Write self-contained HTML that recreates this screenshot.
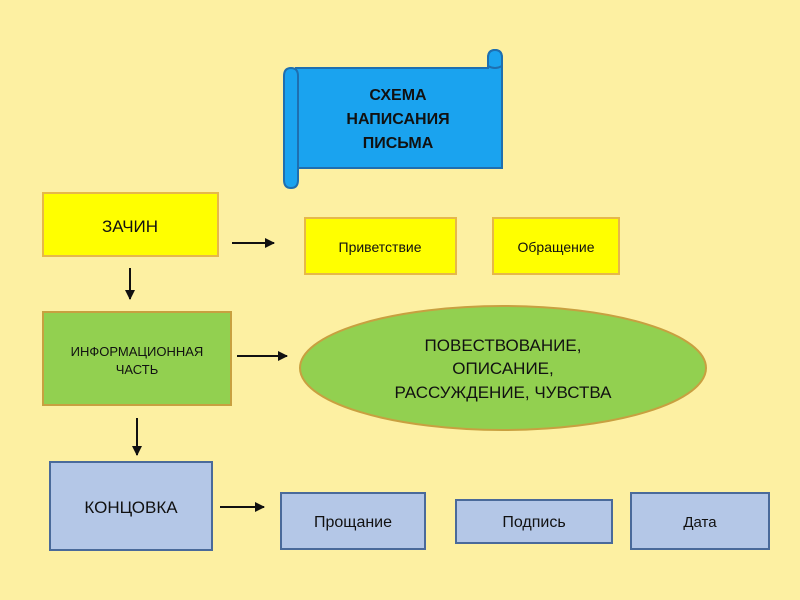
<!DOCTYPE html>
<html><head><meta charset="utf-8"><style>
html,body{margin:0;padding:0;width:800px;height:600px;overflow:hidden;background:#fdf0a2}
svg{display:block}
text{font-family:"Liberation Sans",Arial,sans-serif;fill:#111}
</style></head><body>
<svg width="800" height="600" viewBox="0 0 800 600" xmlns="http://www.w3.org/2000/svg">
<defs><marker id="a" markerWidth="10" markerHeight="10" refX="9" refY="5" orient="auto" markerUnits="userSpaceOnUse"><path d="M0,0 L10,5 L0,10 z" fill="#111"/></marker></defs>
<rect width="800" height="600" fill="#fdf0a2"/>
<!-- scroll -->
<g stroke="#1e6fb0" stroke-width="2" fill="#1aa3ef">
<path d="M296,68 L488,68 L488,58 Q488,50 495,50 Q502,50 502,58 L502,168 L296,168 L296,68 z"/>
<path d="M284,76 Q284,68 291,68 Q298,68 298,76 L298,180 Q298,188 291,188 Q284,188 284,180 z"/>
<path d="M488,58 Q488,50 495,50 Q502,50 502,58 L502,66 Q495,70 488,66 z"/>
</g>
<text x="398" y="100" font-size="16" font-weight="bold" text-anchor="middle">СХЕМА</text>
<text x="398" y="124" font-size="16" font-weight="bold" text-anchor="middle">НАПИСАНИЯ</text>
<text x="398" y="148" font-size="16" font-weight="bold" text-anchor="middle">ПИСЬМА</text>
<!-- row 1 -->
<rect x="43" y="193" width="175" height="63" fill="#ffff00" stroke="#e6b84a" stroke-width="2"/>
<text x="130" y="232" font-size="17" text-anchor="middle">ЗАЧИН</text>
<rect x="305" y="218" width="151" height="56" fill="#ffff00" stroke="#e6b84a" stroke-width="2"/>
<text x="380" y="252" font-size="14" text-anchor="middle">Приветствие</text>
<rect x="493" y="218" width="126" height="56" fill="#ffff00" stroke="#e6b84a" stroke-width="2"/>
<text x="556" y="252" font-size="14" text-anchor="middle">Обращение</text>
<line x1="232" y1="243" x2="274" y2="243" stroke="#111" stroke-width="2" marker-end="url(#a)"/>
<line x1="130" y1="268" x2="130" y2="299" stroke="#111" stroke-width="2" marker-end="url(#a)"/>
<!-- row 2 -->
<rect x="43" y="312" width="188" height="93" fill="#92d050" stroke="#c8a040" stroke-width="2"/>
<text x="137" y="356" font-size="13" text-anchor="middle">ИНФОРМАЦИОННАЯ</text>
<text x="137" y="374" font-size="13" text-anchor="middle">ЧАСТЬ</text>
<line x1="237" y1="356" x2="287" y2="356" stroke="#111" stroke-width="2" marker-end="url(#a)"/>
<ellipse cx="503" cy="368" rx="203" ry="62" fill="#92d050" stroke="#c8a040" stroke-width="2"/>
<text x="503" y="351" font-size="17" text-anchor="middle">ПОВЕСТВОВАНИЕ,</text>
<text x="503" y="374" font-size="17" text-anchor="middle">ОПИСАНИЕ,</text>
<text x="503" y="398" font-size="17" text-anchor="middle">РАССУЖДЕНИЕ, ЧУВСТВА</text>
<line x1="137" y1="418" x2="137" y2="455" stroke="#111" stroke-width="2" marker-end="url(#a)"/>
<!-- row 3 -->
<rect x="50" y="462" width="162" height="88" fill="#b4c7e7" stroke="#4a6a9a" stroke-width="2"/>
<text x="131" y="513" font-size="17" text-anchor="middle">КОНЦОВКА</text>
<line x1="220" y1="507" x2="264" y2="507" stroke="#111" stroke-width="2" marker-end="url(#a)"/>
<rect x="281" y="493" width="144" height="56" fill="#b4c7e7" stroke="#4a6a9a" stroke-width="2"/>
<text x="353" y="527" font-size="16" text-anchor="middle">Прощание</text>
<rect x="456" y="500" width="156" height="43" fill="#b4c7e7" stroke="#4a6a9a" stroke-width="2"/>
<text x="534" y="527" font-size="16" text-anchor="middle">Подпись</text>
<rect x="631" y="493" width="138" height="56" fill="#b4c7e7" stroke="#4a6a9a" stroke-width="2"/>
<text x="700" y="527" font-size="15" text-anchor="middle">Дата</text>
</svg>
</body></html>
